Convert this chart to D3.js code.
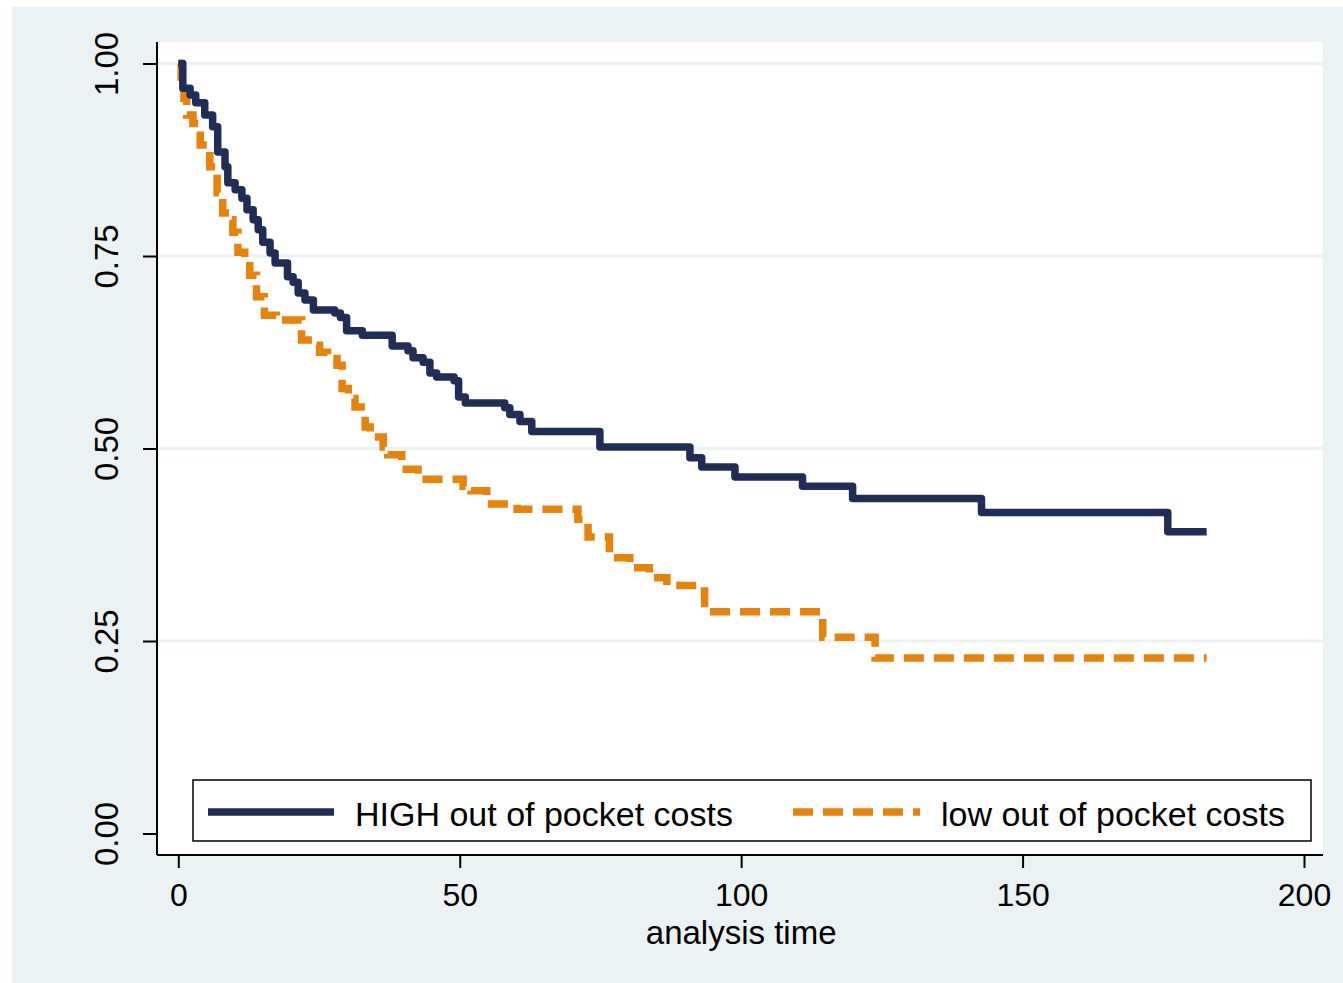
<!DOCTYPE html>
<html>
<head>
<meta charset="utf-8">
<script src="https://cdn.jsdelivr.net/npm/d3@7"></script>
<style>
  body { margin: 0; background: #fff; }
  text { font-family: "Liberation Sans", Arial, sans-serif; fill: #000; }
</style>
</head>
<body>
<div id="chart"></div>
<script>
// Kaplan-Meier estimates (time of step, survival after step)
var highTime = [0, 0.8, 2.1, 3.1, 4.7, 6.1, 7.0, 8.3, 8.8, 10.1, 11.3, 12.2, 13.3, 14.2, 15.0, 16.3, 17.2,
  19.4, 20.4, 21.3, 22.5, 24.0, 27.8, 28.8, 29.9, 32.7, 38.0, 40.8, 41.7, 43.5, 44.7, 45.9, 49.0, 49.8,
  51.0, 58.0, 58.9, 60.7, 62.8, 74.9, 90.9, 93.0, 98.9, 110.9, 119.8, 142.7, 175.8, 182.7];
var highSurv = [1.0, 0.968, 0.959, 0.949, 0.933, 0.918, 0.885, 0.866, 0.845, 0.836, 0.825, 0.810, 0.797, 0.784, 0.768, 0.754, 0.741,
  0.723, 0.716, 0.702, 0.693, 0.680, 0.676, 0.670, 0.653, 0.647, 0.633, 0.627, 0.618, 0.612, 0.598, 0.593, 0.588, 0.567,
  0.559, 0.553, 0.544, 0.535, 0.522, 0.502, 0.488, 0.476, 0.463, 0.451, 0.435, 0.417, 0.392, 0.392];

var lowTime = [0, 0.5, 1.0, 1.5, 2.6, 3.9, 5.6, 6.9, 7.9, 9.2, 9.7, 10.6, 11.8, 12.7, 13.9, 15.3, 17.4,
  21.9, 23.9, 25.1, 26.5, 28.2, 29.1, 30.2, 31.4, 33.2, 34.1, 36.4, 37.2, 39.7, 40.5, 42.6, 43.2,
  50.6, 52.0, 54.8, 60.2, 71.0, 72.8, 76.6, 80.2, 83.7, 86.8, 93.5, 114.5, 123.8, 182.7];
var lowSurv = [1.0, 0.970, 0.955, 0.933, 0.922, 0.894, 0.866, 0.832, 0.806, 0.797, 0.781, 0.755, 0.745, 0.725, 0.697, 0.673, 0.667,
  0.641, 0.634, 0.625, 0.617, 0.608, 0.578, 0.565, 0.554, 0.528, 0.515, 0.502, 0.492, 0.482, 0.473, 0.466, 0.460,
  0.451, 0.445, 0.428, 0.421, 0.408, 0.385, 0.358, 0.345, 0.332, 0.322, 0.288, 0.255, 0.228, 0.228];

var yTicks = [0, 0.25, 0.5, 0.75, 1];
var xTicks = [0, 50, 100, 150, 200];
var seriesNames = ["HIGH out of pocket costs", "low out of pocket costs"];
var xTitle = "analysis time";

var width = 1343,
  height = 983,
  navy = "#1f2d57",
  orange = "#e7820a",
  bluish = "#eaf2f3";

var svg = d3.select("#chart").append("svg")
  .attr("width", width)
  .attr("height", height);

// Graph region and plot region
svg.append("rect").attr("x", 12).attr("y", 7).attr("width", width - 12).attr("height", height - 7)
  .attr("fill", bluish);
svg.append("rect").attr("x", 157).attr("y", 42).attr("width", 1323 - 157).attr("height", 855 - 42)
  .attr("fill", "#fff");

var x = d3.scaleLinear().domain([0, 200]).range([178.3, 1304]),
  y = d3.scaleLinear().domain([0, 1]).range([833.5, 63.5]);

// Grid lines (none at zero)
svg.append("g").selectAll("line")
  .data(yTicks.filter(d => d > 0))
  .enter().append("line")
  .attr("x1", 158).attr("x2", 1323)
  .attr("y1", d => y(d)).attr("y2", d => y(d))
  .attr("stroke", bluish)
  .attr("stroke-width", 3);

// Y axis
var yAxis = svg.append("g")
  .attr("transform", "translate(157,0)")
  .call(d3.axisLeft(y).tickValues(yTicks).tickSize(14).tickFormat(d3.format(".2f")));
yAxis.select(".domain").attr("d", "M0,42V855");
yAxis.selectAll("line, path").attr("stroke", "#000").attr("stroke-width", 2);
yAxis.selectAll("text")
  .attr("x", null).attr("dy", null)
  .attr("transform", "translate(-39,0) rotate(-90)")
  .attr("text-anchor", "middle")
  .style("font-size", "33px")
  .style("font-family", "'Liberation Sans', Arial, sans-serif")
  .attr("fill", "#000");

// X axis
var xAxis = svg.append("g")
  .attr("transform", "translate(0,855)")
  .call(d3.axisBottom(x).tickValues(xTicks).tickSize(13).tickFormat(d3.format("d")));
xAxis.select(".domain").attr("d", "M157,0H1323");
xAxis.selectAll("line, path").attr("stroke", "#000").attr("stroke-width", 2);
xAxis.selectAll("text")
  .attr("y", 51).attr("dy", null)
  .style("font-size", "32px")
  .style("font-family", "'Liberation Sans', Arial, sans-serif")
  .attr("fill", "#000");

svg.append("text")
  .attr("x", x(100)).attr("y", 944)
  .attr("text-anchor", "middle")
  .style("font-size", "33px")
  .text(xTitle);

// Survival curves
var line = d3.line()
  .x(d => x(d[0]))
  .y(d => y(d[1]))
  .curve(d3.curveStepAfter);

svg.append("path")
  .datum(d3.zip(lowTime, lowSurv))
  .attr("d", line)
  .attr("fill", "none")
  .attr("stroke", orange)
  .attr("stroke-width", 7.5)
  .attr("stroke-dasharray", "20,10");

svg.append("path")
  .datum(d3.zip(highTime, highSurv))
  .attr("d", line)
  .attr("fill", "none")
  .attr("stroke", navy)
  .attr("stroke-width", 7.5)
  .attr("stroke-linejoin", "round");

// Legend
var legend = svg.append("g");
legend.append("rect")
  .attr("x", 193).attr("y", 780).attr("width", 1311 - 193).attr("height", 61)
  .attr("fill", "#fff").attr("stroke", "#000").attr("stroke-width", 1.5);

var keys = [
  { name: seriesNames[0], color: navy, dash: null, x1: 208, x2: 334, tx: 355 },
  { name: seriesNames[1], color: orange, dash: "20,10", x1: 793, x2: 920, tx: 941 }
];
keys.forEach(function (k) {
  legend.append("line")
    .attr("x1", k.x1).attr("x2", k.x2)
    .attr("y1", 812).attr("y2", 812)
    .attr("stroke", k.color)
    .attr("stroke-width", 7.5)
    .attr("stroke-dasharray", k.dash);
  legend.append("text")
    .attr("x", k.tx).attr("y", 826)
    .style("font-size", "34px")
    .text(k.name);
});
</script>
</body>
</html>
